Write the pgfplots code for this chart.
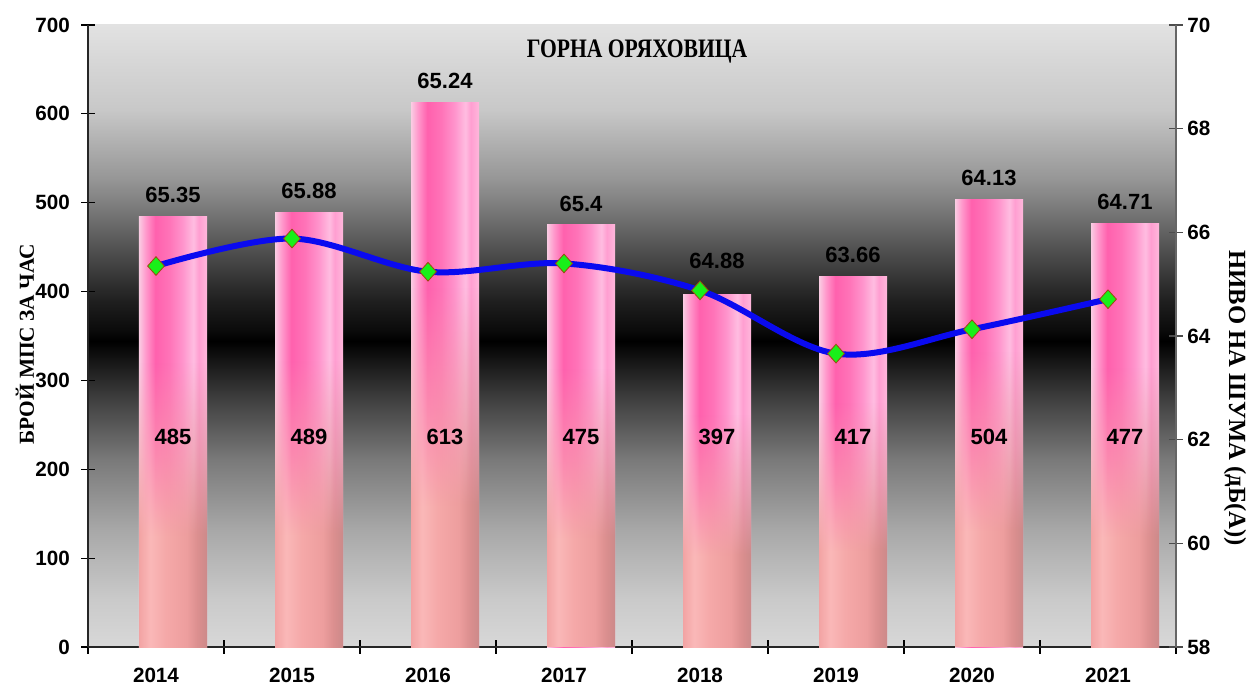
\documentclass[border=0pt]{standalone}
\usepackage{fontspec}
\setmainfont{Liberation Sans}
\newfontfamily\serifb{Liberation Serif}
\usepackage{graphicx}
\usepackage{pgfplots}
\pgfplotsset{compat=1.18}
\usetikzlibrary{fadings}

\pgfdeclareverticalshading{bgshade}{100bp}{%
rgb(0bp)=(.847,.847,.847);
rgb(25bp)=(.847,.847,.847);
rgb(28.8bp)=(.792,.792,.792);
rgb(34.4bp)=(.659,.659,.659);
rgb(40bp)=(.478,.478,.478);
rgb(44.9bp)=(.25,.25,.25);
rgb(49.6bp)=(0,0,0);
rgb(50.4bp)=(.04,.04,.04);
rgb(52.9bp)=(.125,.125,.125);
rgb(56.9bp)=(.314,.314,.314);
rgb(62.5bp)=(.584,.584,.584);
rgb(68.2bp)=(.784,.784,.784);
rgb(75bp)=(.886,.886,.886);
rgb(100bp)=(.886,.886,.886)}

\pgfdeclarehorizontalshading{barH}{100bp}{%
rgb(0bp)=(.98,.80,.89);
rgb(25bp)=(.98,.80,.89);
rgb(30bp)=(1,.60,.80);
rgb(37bp)=(1,.38,.68);
rgb(47bp)=(1,.45,.72);
rgb(57bp)=(1,.58,.80);
rgb(65bp)=(1,.74,.88);
rgb(69bp)=(1,.62,.82);
rgb(75bp)=(1,.72,.86);
rgb(100bp)=(1,.72,.86)}

\pgfdeclarehorizontalshading{barS}{100bp}{%
rgb(0bp)=(.95,.64,.64);
rgb(25bp)=(.95,.64,.64);
rgb(33bp)=(.98,.72,.72);
rgb(45bp)=(.96,.66,.66);
rgb(60bp)=(.93,.62,.62);
rgb(68bp)=(.86,.56,.56);
rgb(75bp)=(.80,.54,.54);
rgb(100bp)=(.80,.54,.54)}

\pgfdeclareverticalshading{salmonfadeshade}{100bp}{%
color(0bp)=(white);
color(25bp)=(white);
color(38bp)=(white);
color(47bp)=(white!50!black);
color(58bp)=(black);
color(100bp)=(black)}
\pgfdeclarefading{salmonfade}{\pgfuseshading{salmonfadeshade}}

\definecolor{lineblue}{HTML}{0A0AF0}
\definecolor{mkgreen}{HTML}{19F019}
\definecolor{mkedge}{HTML}{9A4A10}

\pgfplotstableread{
x y lab
0.125 500 65.35
1.125 504 65.88
2.125 628 65.24
3.125 490 65.4
4.125 425 64.88
5.125 432 63.66
6.125 519 64.13
7.125 492 64.71
}\toplabels

\pgfplotstableread{
x y lab
0.125 236 485
1.125 236 489
2.125 236 613
3.125 236 475
4.125 236 397
5.125 236 417
6.125 236 504
7.125 236 477
}\midlabels

\pgfplotstableread{
x y
0 65.35
1 65.88
2 65.24
3 65.40
4 64.88
5 63.66
6 64.13
7 64.71
}\noise

\pgfplotsset{
  pbar/.style={ybar, bar width=0.5, bar shift=0pt, draw=none, shading=barH},
  pbarS/.style={ybar, bar width=0.5, bar shift=0pt, draw=none, shading=barS, path fading=salmonfade, fit fading=true},
}

\begin{document}
\begin{tikzpicture}
\begin{axis}[
  name=ax,
  scale only axis, width=816pt, height=466.5pt,
  xmin=-0.5, xmax=7.5, ymin=0, ymax=700,
  clip=false,
  axis x line*=bottom, axis y line*=left,
  axis line style={black!85, line width=0.8pt},
  axis background/.style={shading=bgshade},
  xtick={0,...,7},
  xticklabels={2014,2015,2016,2017,2018,2019,2020,2021},
  minor xtick={-0.5,0.5,...,7.5},
  ytick={0,100,...,700},
  tick align=center,
  major tick length=10pt, minor tick length=10pt,
  major x tick style={draw=none},
  tick style={black, line width=0.8pt},
  /pgf/number format/assume math mode=true,
  ticklabel style={font=\bfseries\fontsize{15.5}{18}\selectfont},
  xticklabel style={yshift=-7pt},
  yticklabel style={xshift=-5pt},
]
\addplot[pbar] coordinates {(0.125,485)};
\addplot[pbarS] coordinates {(0.125,485)};
\addplot[pbar] coordinates {(1.125,489)};
\addplot[pbarS] coordinates {(1.125,489)};
\addplot[pbar] coordinates {(2.125,613)};
\addplot[pbarS] coordinates {(2.125,613)};
\addplot[pbar] coordinates {(3.125,475)};
\addplot[pbarS] coordinates {(3.125,475)};
\addplot[pbar] coordinates {(4.125,397)};
\addplot[pbarS] coordinates {(4.125,397)};
\addplot[pbar] coordinates {(5.125,417)};
\addplot[pbarS] coordinates {(5.125,417)};
\addplot[pbar] coordinates {(6.125,504)};
\addplot[pbarS] coordinates {(6.125,504)};
\addplot[pbar] coordinates {(7.125,477)};
\addplot[pbarS] coordinates {(7.125,477)};
\addplot[draw=none, mark=none, nodes near coords, point meta=explicit symbolic,
  every node near coord/.append style={anchor=south, inner sep=0pt, font=\bfseries\fontsize{16.5}{19}\selectfont}]
  table[x=x,y=y,meta=lab] {\toplabels};
\addplot[draw=none, mark=none, nodes near coords, point meta=explicit symbolic,
  every node near coord/.append style={anchor=center, inner sep=0pt, font=\bfseries\fontsize{16.5}{19}\selectfont}]
  table[x=x,y=y,meta=lab] {\midlabels};
\node at (rel axis cs:0.5046,0.9566) {\serifb\bfseries\fontsize{20}{24}\selectfont\scalebox{0.81}[1]{ГОРНА ОРЯХОВИЦА}};
\node[rotate=90] at ([xshift=-47.25pt]rel axis cs:0,0.487) {\serifb\bfseries\fontsize{16}{19}\selectfont БРОЙ МПС ЗА ЧАС};
\node[rotate=-90] at ([xshift=44.25pt]rel axis cs:1,0.40) {\serifb\bfseries\fontsize{18.5}{21}\selectfont НИВО НА ШУМА (дБ(А))};
\end{axis}
\begin{axis}[
  scale only axis, width=816pt, height=466.5pt,
  xmin=-0.5, xmax=7.5, ymin=58, ymax=70,
  clip=false,
  axis x line=none, axis y line*=right,
  axis line style={black!60, line width=0.8pt},
  ytick={58,60,...,70},
  tick align=center, major tick length=10pt,
  tick style={black!70, line width=0.8pt},
  /pgf/number format/assume math mode=true,
  ticklabel style={font=\bfseries\fontsize{15.5}{18}\selectfont},
]
\addplot[lineblue, line width=4.5pt, smooth, tension=0.55, mark=diamond*, mark size=7pt,
  mark options={fill=mkgreen, draw=mkedge, line width=0.6pt, xscale=1.2}] table[x=x,y=y] {\noise};
\end{axis}
\pgfresetboundingbox
\path ([shift={(-66pt,-27.75pt)}]ax.south west) rectangle ([shift={(57pt,18.75pt)}]ax.north east);
\end{tikzpicture}
\end{document}
